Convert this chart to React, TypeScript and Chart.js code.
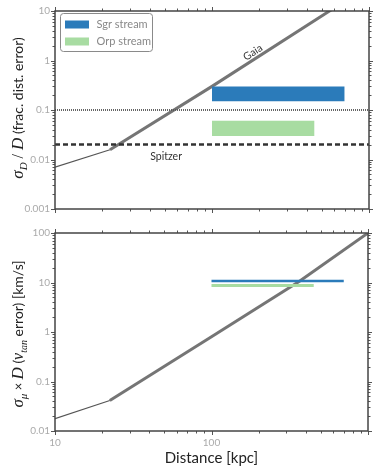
import React, { useEffect, useRef } from 'react';
import { Chart, registerables } from 'chart.js';
Chart.register(...registerables);

// ---------- data ----------
const xMin = 10;
const xMax = 1000;
const xMajorTicks = [10, 100, 1000];
const xTickLabels = ['10', '100', ''];

// top panel: fractional distance error
const fracMin = 0.001;
const fracMax = 10;
const fracMajorTicks = [0.001, 0.01, 0.1, 1, 10];
const fracTickLabels = ['0.001', '0.01', '0.1', '1', '10'];
const gaiaFracX = [10, 22.4, 100, 560, 1000];
const gaiaFracY = [0.007, 0.0158, 0.3, 10, 32];
const parallaxLevel = 0.1;
const spitzerLevel = 0.02;
const sgrFracX = [100, 700];
const sgrFracLow = 0.15;
const sgrFracHigh = 0.3;
const orpFracX = [100, 450];
const orpFracLow = 0.03;
const orpFracHigh = 0.061;
const gaiaLabelPos = { x: 182, y: 1.45 };
const spitzerLabelPos = { x: 51, y: 0.0117 };

// bottom panel: tangential velocity error
const velMin = 0.01;
const velMax = 100;
const velMajorTicks = [0.01, 0.1, 1, 10, 100];
const velTickLabels = ['0.01', '0.1', '1', '10', '100'];
const gaiaVelX = [10, 22.4, 100, 363, 1000];
const gaiaVelY = [0.0178, 0.0415, 0.8, 10.5, 100];
const sgrVelX = [100, 700];
const sgrVelY = 10.7;
const orpVelX = [100, 450];
const orpVelY = 8.7;

const legendLabels = ['Sgr stream', 'Orp stream'];

// ---------- styles ----------
const SGR = '#2b7bba';
const ORP = '#a8dca2';
const GAIA = 'rgba(105,105,105,0.92)';
const SANS = 'Lato, "Open Sans", sans-serif';
const SERIF = '"Liberation Serif", "DejaVu Serif", serif';

type Seg = { t: string; f: string; dy?: number };

function drawVerticalRich(ctx: CanvasRenderingContext2D, segs: Seg[], cx: number, cy: number, color: string) {
  ctx.save();
  ctx.translate(cx, cy);
  ctx.rotate(-Math.PI / 2);
  ctx.textAlign = 'left';
  ctx.textBaseline = 'alphabetic';
  ctx.fillStyle = color;
  let total = 0;
  for (const s of segs) {
    ctx.font = s.f;
    total += ctx.measureText(s.t).width;
  }
  let x = -total / 2;
  for (const s of segs) {
    ctx.font = s.f;
    ctx.fillText(s.t, x, s.dy || 0);
    x += ctx.measureText(s.t).width;
  }
  ctx.restore();
}

function minorTicks(min: number, max: number): number[] {
  const out: number[] = [];
  for (let d = Math.floor(Math.log10(min)); d < Math.ceil(Math.log10(max)); d++) {
    for (let m = 2; m <= 9; m++) {
      const v = m * Math.pow(10, d);
      if (v > min && v < max) out.push(v);
    }
  }
  return out;
}

function framePlugin(yMajors: number[], yMin: number, yMax: number, title: Seg[], titleCy: number) {
  return {
    id: 'frameTicks',
    afterDatasetsDraw(chart: any) {
      const ctx: CanvasRenderingContext2D = chart.ctx;
      const a = chart.chartArea;
      const xs = chart.scales.x;
      const ys = chart.scales.y;
      ctx.save();
      ctx.strokeStyle = '#555';
      ctx.lineWidth = 1;
      const xMinor = minorTicks(xMin, xMax);
      const yMinor = minorTicks(yMin, yMax);
      const drawX = (v: number, len: number) => {
        const p = Math.round(xs.getPixelForValue(v)) + 0.5;
        ctx.beginPath();
        ctx.moveTo(p, a.bottom);
        ctx.lineTo(p, a.bottom + len);
        ctx.moveTo(p, a.top);
        ctx.lineTo(p, a.top - len);
        ctx.stroke();
      };
      const drawY = (v: number, len: number) => {
        const p = Math.round(ys.getPixelForValue(v)) + 0.5;
        ctx.beginPath();
        ctx.moveTo(a.left, p);
        ctx.lineTo(a.left - len, p);
        ctx.moveTo(a.right, p);
        ctx.lineTo(a.right + len, p);
        ctx.stroke();
      };
      xMajorTicks.forEach((v) => drawX(v, 4));
      xMinor.forEach((v) => drawX(v, 2.5));
      yMajors.forEach((v) => drawY(v, 4));
      yMinor.forEach((v) => drawY(v, 2.5));
      ctx.strokeStyle = '#444';
      ctx.lineWidth = 1.5;
      ctx.strokeRect(a.left, a.top, a.right - a.left, a.bottom - a.top);
      ctx.restore();
      drawVerticalRich(ctx, title, 23, titleCy, '#222');
    },
  };
}

const topTitle: Seg[] = [
  { t: 'σ', f: `italic 17px ${SERIF}` },
  { t: 'D', f: `italic 11px ${SERIF}`, dy: 4 },
  { t: ' / ', f: `16px ${SERIF}` },
  { t: 'D', f: `italic 17px ${SERIF}` },
  { t: ' (frac. dist. error)', f: `14px ${SANS}` },
];
const bottomTitle: Seg[] = [
  { t: 'σ', f: `italic 17px ${SERIF}` },
  { t: 'μ', f: `italic 11px ${SERIF}`, dy: 4 },
  { t: ' × ', f: `13px ${SANS}` },
  { t: 'D', f: `italic 17px ${SERIF}` },
  { t: ' (', f: `14px ${SANS}` },
  { t: 'v', f: `italic 16px ${SERIF}` },
  { t: 'tan', f: `italic 10px ${SERIF}`, dy: 4 },
  { t: ' error) [km/s]', f: `14px ${SANS}` },
];

const topAnnotations = {
  id: 'topAnnotations',
  afterDatasetsDraw(chart: any) {
    const ctx: CanvasRenderingContext2D = chart.ctx;
    const a = chart.chartArea;
    const xs = chart.scales.x;
    const ys = chart.scales.y;
    ctx.save();
    // Gaia label along line
    const p1x = xs.getPixelForValue(gaiaFracX[2]);
    const p1y = ys.getPixelForValue(gaiaFracY[2]);
    const p2x = xs.getPixelForValue(gaiaFracX[3]);
    const p2y = ys.getPixelForValue(gaiaFracY[3]);
    const ang = Math.atan2(p2y - p1y, p2x - p1x);
    ctx.translate(xs.getPixelForValue(gaiaLabelPos.x), ys.getPixelForValue(gaiaLabelPos.y));
    ctx.rotate(ang);
    ctx.font = `10.5px ${SANS}`;
    ctx.fillStyle = '#333';
    ctx.textAlign = 'center';
    ctx.textBaseline = 'middle';
    ctx.fillText('Gaia', 0, 0);
    ctx.restore();

    ctx.save();
    ctx.font = `10.5px ${SANS}`;
    ctx.fillStyle = '#333';
    ctx.textAlign = 'center';
    ctx.textBaseline = 'middle';
    ctx.fillText('Spitzer', xs.getPixelForValue(spitzerLabelPos.x), ys.getPixelForValue(spitzerLabelPos.y));

    // legend
    const lx = a.left + 5.5;
    const ly = a.top + 2.5;
    ctx.fillStyle = 'rgba(255,255,255,0.85)';
    ctx.strokeStyle = '#8a8a8a';
    ctx.lineWidth = 1;
    ctx.beginPath();
    (ctx as any).roundRect(lx, ly, 92, 38, 3);
    ctx.fill();
    ctx.stroke();
    const colors = [SGR, ORP];
    legendLabels.forEach((lab, i) => {
      const yy = ly + 11 + i * 17;
      ctx.fillStyle = colors[i];
      ctx.fillRect(lx + 4.5, yy - 4, 24, 8);
      ctx.fillStyle = '#888';
      ctx.font = `11px ${SANS}`;
      ctx.textAlign = 'left';
      ctx.textBaseline = 'middle';
      ctx.fillText(lab, lx + 36, yy);
    });
    ctx.restore();
  },
};

const pts = (xs: number[], ys: number[]) => xs.map((x, i) => ({ x, y: ys[i] }));
const hline = (xs: number[], y: number) => xs.map((x) => ({ x, y }));

function baseOptions(yMin: number, yMax: number, yMajors: number[], yLabels: string[], showX: boolean, padBottom: number) {
  return {
    responsive: false,
    animation: false as const,
    events: [],
    layout: { padding: { top: 10, right: 5, left: 0, bottom: padBottom } },
    plugins: { legend: { display: false }, tooltip: { enabled: false } },
    elements: { point: { radius: 0 }, line: { tension: 0 } },
    scales: {
      x: {
        type: 'logarithmic' as const,
        min: xMin,
        max: xMax,
        display: showX,
        grid: { display: false, drawTicks: false },
        border: { display: false },
        afterBuildTicks: (s: any) => {
          s.ticks = xMajorTicks.map((v) => ({ value: v }));
        },
        afterFit: (s: any) => {
          s.height = showX ? 41 : 0;
        },
        ticks: {
          autoSkip: false,
          maxRotation: 0,
          padding: 6,
          color: '#aaa',
          font: { family: SANS, size: 10 },
          callback: (_v: any, i: number) => xTickLabels[i],
        },
        title: {
          display: showX,
          text: 'Distance [kpc]',
          color: '#222',
          font: { family: SANS, size: 15 },
          padding: { top: 0, bottom: 5 },
        },
      },
      y: {
        type: 'logarithmic' as const,
        min: yMin,
        max: yMax,
        grid: { display: false, drawTicks: false },
        border: { display: false },
        afterBuildTicks: (s: any) => {
          s.ticks = yMajors.map((v) => ({ value: v }));
        },
        afterFit: (s: any) => {
          s.width = 55;
        },
        ticks: {
          autoSkip: false,
          padding: 5,
          color: '#aaa',
          font: { family: SANS, size: 10 },
          callback: (_v: any, i: number) => yLabels[i],
        },
      },
    },
  };
}

export default function App() {
  const topRef = useRef<HTMLCanvasElement>(null);
  const botRef = useRef<HTMLCanvasElement>(null);

  useEffect(() => {
    const top = new Chart(topRef.current as HTMLCanvasElement, {
      type: 'line',
      data: {
        datasets: [
          { data: hline(sgrFracX, sgrFracHigh), borderWidth: 0, borderColor: SGR, fill: false },
          { data: hline(sgrFracX, sgrFracLow), borderWidth: 0, borderColor: SGR, backgroundColor: SGR, fill: '-1' },
          { data: hline(orpFracX, orpFracHigh), borderWidth: 0, borderColor: ORP, fill: false },
          { data: hline(orpFracX, orpFracLow), borderWidth: 0, borderColor: ORP, backgroundColor: ORP, fill: '-1' },
          { data: hline([xMin, xMax], parallaxLevel), borderColor: '#555', borderWidth: 1.8, borderDash: [1, 1], fill: false },
          { data: hline([xMin, xMax], spitzerLevel), borderColor: '#333', borderWidth: 2.5, borderDash: [5, 3], fill: false },
          { data: pts(gaiaFracX.slice(0, 2), gaiaFracY.slice(0, 2)), borderColor: '#555', borderWidth: 1.1, fill: false },
          { data: pts(gaiaFracX.slice(1), gaiaFracY.slice(1)), borderColor: GAIA, borderWidth: 3, fill: false },
        ] as any,
      },
      options: baseOptions(fracMin, fracMax, fracMajorTicks, fracTickLabels, false, 13) as any,
      plugins: [framePlugin(fracMajorTicks, fracMin, fracMax, topTitle, 108), topAnnotations],
    });

    const bot = new Chart(botRef.current as HTMLCanvasElement, {
      type: 'line',
      data: {
        datasets: [
          { data: hline(sgrVelX, sgrVelY), borderColor: SGR, borderWidth: 2.5, fill: false },
          { data: hline(orpVelX, orpVelY), borderColor: ORP, borderWidth: 2.8, fill: false },
          { data: pts(gaiaVelX.slice(0, 2), gaiaVelY.slice(0, 2)), borderColor: '#555', borderWidth: 1.1, fill: false },
          { data: pts(gaiaVelX.slice(1), gaiaVelY.slice(1)), borderColor: GAIA, borderWidth: 3, fill: false },
        ] as any,
      },
      options: baseOptions(velMin, velMax, velMajorTicks, velTickLabels, true, 0) as any,
      plugins: [framePlugin(velMajorTicks, velMin, velMax, bottomTitle, 112)],
    });

    return () => {
      top.destroy();
      bot.destroy();
    };
  }, []);

  return (
    <div style={{ position: 'absolute', left: 0, top: 0, width: 374, height: 472, background: '#fff' }}>
      <canvas ref={topRef} width={374} height={222} style={{ position: 'absolute', left: 0, top: 0, width: 374, height: 222 }} />
      <canvas ref={botRef} width={374} height={250} style={{ position: 'absolute', left: 0, top: 222, width: 374, height: 250 }} />
    </div>
  );
}
